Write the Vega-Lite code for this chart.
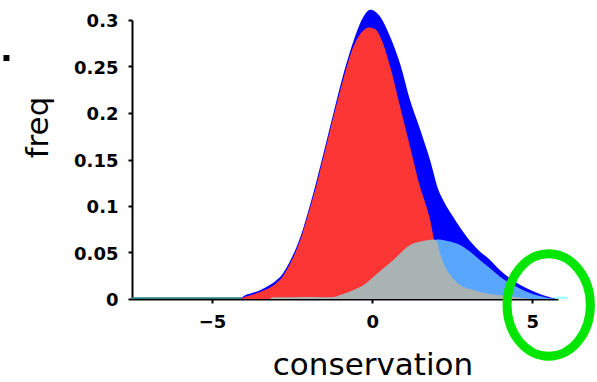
{
  "$schema": "https://vega.github.io/schema/vega-lite/v6.json",
  "width": 426,
  "height": 279,
  "autosize": {"type": "none"},
  "padding": {"left": 132, "top": 20, "right": 39, "bottom": 83},
  "background": "white",
  "config": {"view": {"stroke": null}, "axis": {"grid": false}},
  "datasets": {
    "curves": [
      {"s": "tail", "x": -7.5, "y": 0.002}, {"s": "tail", "x": -4.05, "y": 0.002},
      {"s": "total", "x": -4.1, "y": 0}, {"s": "total", "x": -4.0, "y": 0.0035}, {"s": "total", "x": -3.8, "y": 0.006}, {"s": "total", "x": -3.5, "y": 0.0095}, {"s": "total", "x": -3.2, "y": 0.015}, {"s": "total", "x": -3.0, "y": 0.02}, {"s": "total", "x": -2.8, "y": 0.027}, {"s": "total", "x": -2.55, "y": 0.042}, {"s": "total", "x": -2.35, "y": 0.057}, {"s": "total", "x": -2.19, "y": 0.072}, {"s": "total", "x": -2.0, "y": 0.094}, {"s": "total", "x": -1.83, "y": 0.115}, {"s": "total", "x": -1.52, "y": 0.157}, {"s": "total", "x": -1.21, "y": 0.2}, {"s": "total", "x": -0.89, "y": 0.243}, {"s": "total", "x": -0.58, "y": 0.278}, {"s": "total", "x": -0.3, "y": 0.302}, {"s": "total", "x": -0.06, "y": 0.311}, {"s": "total", "x": 0.1, "y": 0.309}, {"s": "total", "x": 0.25, "y": 0.3035}, {"s": "total", "x": 0.56, "y": 0.282}, {"s": "total", "x": 0.87, "y": 0.253}, {"s": "total", "x": 1.18, "y": 0.214}, {"s": "total", "x": 1.5, "y": 0.182}, {"s": "total", "x": 1.81, "y": 0.149}, {"s": "total", "x": 2.07, "y": 0.117}, {"s": "total", "x": 2.25, "y": 0.104}, {"s": "total", "x": 2.59, "y": 0.085}, {"s": "total", "x": 2.95, "y": 0.067}, {"s": "total", "x": 3.31, "y": 0.0527}, {"s": "total", "x": 3.68, "y": 0.042}, {"s": "total", "x": 3.99, "y": 0.031}, {"s": "total", "x": 4.4, "y": 0.02}, {"s": "total", "x": 4.82, "y": 0.0115}, {"s": "total", "x": 5.23, "y": 0.0054}, {"s": "total", "x": 5.5, "y": 0.0025}, {"s": "total", "x": 5.75, "y": 0},
      {"s": "red", "x": -4.1, "y": 0}, {"s": "red", "x": -4.0, "y": 0.002}, {"s": "red", "x": -3.8, "y": 0.004}, {"s": "red", "x": -3.5, "y": 0.0075}, {"s": "red", "x": -3.2, "y": 0.012}, {"s": "red", "x": -3.0, "y": 0.017}, {"s": "red", "x": -2.8, "y": 0.024}, {"s": "red", "x": -2.55, "y": 0.039}, {"s": "red", "x": -2.35, "y": 0.054}, {"s": "red", "x": -2.19, "y": 0.069}, {"s": "red", "x": -2.0, "y": 0.091}, {"s": "red", "x": -1.83, "y": 0.111}, {"s": "red", "x": -1.52, "y": 0.153}, {"s": "red", "x": -1.21, "y": 0.196}, {"s": "red", "x": -0.89, "y": 0.238}, {"s": "red", "x": -0.58, "y": 0.272}, {"s": "red", "x": -0.3, "y": 0.288}, {"s": "red", "x": -0.1, "y": 0.292}, {"s": "red", "x": 0.1, "y": 0.29}, {"s": "red", "x": 0.25, "y": 0.282}, {"s": "red", "x": 0.56, "y": 0.25}, {"s": "red", "x": 0.87, "y": 0.207}, {"s": "red", "x": 1.18, "y": 0.164}, {"s": "red", "x": 1.5, "y": 0.12}, {"s": "red", "x": 1.65, "y": 0.104}, {"s": "red", "x": 1.81, "y": 0.085}, {"s": "red", "x": 1.91, "y": 0.067}, {"s": "red", "x": 2.0, "y": 0.05}, {"s": "red", "x": 2.12, "y": 0.035}, {"s": "red", "x": 2.3, "y": 0.022}, {"s": "red", "x": 2.5, "y": 0.014}, {"s": "red", "x": 2.8, "y": 0.008}, {"s": "red", "x": 3.2, "y": 0.004}, {"s": "red", "x": 4.0, "y": 0.002}, {"s": "red", "x": 4.5, "y": 0},
      {"s": "lightblue", "x": 1.6, "y": 0}, {"s": "lightblue", "x": 1.75, "y": 0.04}, {"s": "lightblue", "x": 1.9, "y": 0.06}, {"s": "lightblue", "x": 2.0, "y": 0.064}, {"s": "lightblue", "x": 2.2, "y": 0.0635}, {"s": "lightblue", "x": 2.43, "y": 0.0617}, {"s": "lightblue", "x": 2.74, "y": 0.058}, {"s": "lightblue", "x": 3.05, "y": 0.051}, {"s": "lightblue", "x": 3.36, "y": 0.042}, {"s": "lightblue", "x": 3.68, "y": 0.033}, {"s": "lightblue", "x": 3.99, "y": 0.024}, {"s": "lightblue", "x": 4.4, "y": 0.015}, {"s": "lightblue", "x": 4.82, "y": 0.0079}, {"s": "lightblue", "x": 5.23, "y": 0.0032}, {"s": "lightblue", "x": 5.5, "y": 0.0012}, {"s": "lightblue", "x": 5.75, "y": 0},
      {"s": "gray", "x": -3.2, "y": 0}, {"s": "gray", "x": -3.1, "y": 0.002}, {"s": "gray", "x": -2.5, "y": 0.002}, {"s": "gray", "x": -2.0, "y": 0.0022}, {"s": "gray", "x": -1.5, "y": 0.002}, {"s": "gray", "x": -1.2, "y": 0.0022}, {"s": "gray", "x": -1.0, "y": 0.0043}, {"s": "gray", "x": -0.58, "y": 0.0097}, {"s": "gray", "x": -0.27, "y": 0.015}, {"s": "gray", "x": 0.04, "y": 0.024}, {"s": "gray", "x": 0.35, "y": 0.033}, {"s": "gray", "x": 0.66, "y": 0.042}, {"s": "gray", "x": 0.87, "y": 0.049}, {"s": "gray", "x": 0.98, "y": 0.0527}, {"s": "gray", "x": 1.18, "y": 0.058}, {"s": "gray", "x": 1.5, "y": 0.0617}, {"s": "gray", "x": 1.75, "y": 0.0635}, {"s": "gray", "x": 1.91, "y": 0.064}, {"s": "gray", "x": 2.0, "y": 0.063}, {"s": "gray", "x": 2.06, "y": 0.057}, {"s": "gray", "x": 2.12, "y": 0.049}, {"s": "gray", "x": 2.27, "y": 0.035}, {"s": "gray", "x": 2.48, "y": 0.024}, {"s": "gray", "x": 2.74, "y": 0.015}, {"s": "gray", "x": 3.16, "y": 0.0097}, {"s": "gray", "x": 3.57, "y": 0.006}, {"s": "gray", "x": 3.99, "y": 0.0043}, {"s": "gray", "x": 4.5, "y": 0.002}, {"s": "gray", "x": 5.0, "y": 0},
      {"s": "cyan", "x": 5.7, "y": 0.0025}, {"s": "cyan", "x": 6.1, "y": 0.0025}
    ],
    "marks": [
      {"k": "square", "x": -11.42, "y": 0.2591},
      {"k": "ellipse", "x": 5.51, "y": -0.0065}
    ]
  },
  "data": {"name": "curves"},
  "encoding": {
    "x": {
      "field": "x", "type": "quantitative",
      "scale": {"domain": [-7.5, 5.8], "nice": false, "zero": false},
      "axis": {
        "values": [-5, 0, 5], "format": "d",
        "title": "conservation",
        "titleFont": "DejaVu Sans", "titleFontSize": 31, "titleFontWeight": "normal", "titleColor": "black",
        "titleX": 240.5, "titleY": 75.5, "titleAlign": "center", "titleBaseline": "alphabetic",
        "labelFont": "DejaVu Sans", "labelFontWeight": "bold", "labelFontSize": 18, "labelColor": "black",
        "labelPadding": 10, "labelFlush": false, "labelOverlap": false,
        "tickSize": 4, "tickWidth": 2, "tickColor": "black",
        "domainColor": "black", "domainWidth": 2
      }
    },
    "y": {
      "field": "y", "type": "quantitative",
      "scale": {"domain": [0, 0.3], "nice": false},
      "axis": {
        "values": [0, 0.05, 0.1, 0.15, 0.2, 0.25, 0.3], "format": "~g",
        "title": "freq",
        "titleFont": "DejaVu Sans", "titleFontSize": 31, "titleFontWeight": "normal", "titleColor": "black",
        "titleAngle": -90, "titleX": -85, "titleY": 107, "titleAlign": "center", "titleBaseline": "alphabetic",
        "labelFont": "DejaVu Sans", "labelFontWeight": "bold", "labelFontSize": 18, "labelColor": "black",
        "labelPadding": 10, "labelOffset": 1.5, "labelOverlap": false, "labelFlush": false,
        "tickSize": 4, "tickWidth": 2, "tickColor": "black",
        "domainColor": "black", "domainWidth": 2
      }
    }
  },
  "layer": [
    {"transform": [{"filter": "datum.s === 'tail'"}], "mark": {"type": "area", "color": "#2a7f80", "interpolate": "linear"}},
    {"transform": [{"filter": "datum.s === 'total'"}], "mark": {"type": "area", "color": "#0000ff", "interpolate": "monotone"}},
    {"transform": [{"filter": "datum.s === 'red'"}], "mark": {"type": "area", "color": "#fc3535", "interpolate": "monotone"}},
    {"transform": [{"filter": "datum.s === 'lightblue'"}], "mark": {"type": "area", "color": "#59a6ff", "interpolate": "monotone"}},
    {"transform": [{"filter": "datum.s === 'gray'"}], "mark": {"type": "area", "color": "#a9b3b3", "interpolate": "monotone"}},
    {"transform": [{"filter": "datum.s === 'cyan'"}], "mark": {"type": "area", "color": "#a0ffff", "interpolate": "linear"}},
    {
      "data": {"name": "marks"},
      "transform": [{"filter": "datum.k === 'square'"}],
      "mark": {"type": "point", "shape": "square", "filled": true, "color": "black", "size": 36, "opacity": 1}
    },
    {
      "data": {"name": "marks"},
      "transform": [{"filter": "datum.k === 'ellipse'"}],
      "mark": {"type": "point", "shape": "M -0.814 0 A 0.814 1 0 1 1 0.814 0 A 0.814 1 0 1 1 -0.814 0 Z", "filled": false, "stroke": "#00e600", "strokeWidth": 9, "size": 10486, "opacity": 1, "strokeOpacity": 1}
    }
  ]
}
